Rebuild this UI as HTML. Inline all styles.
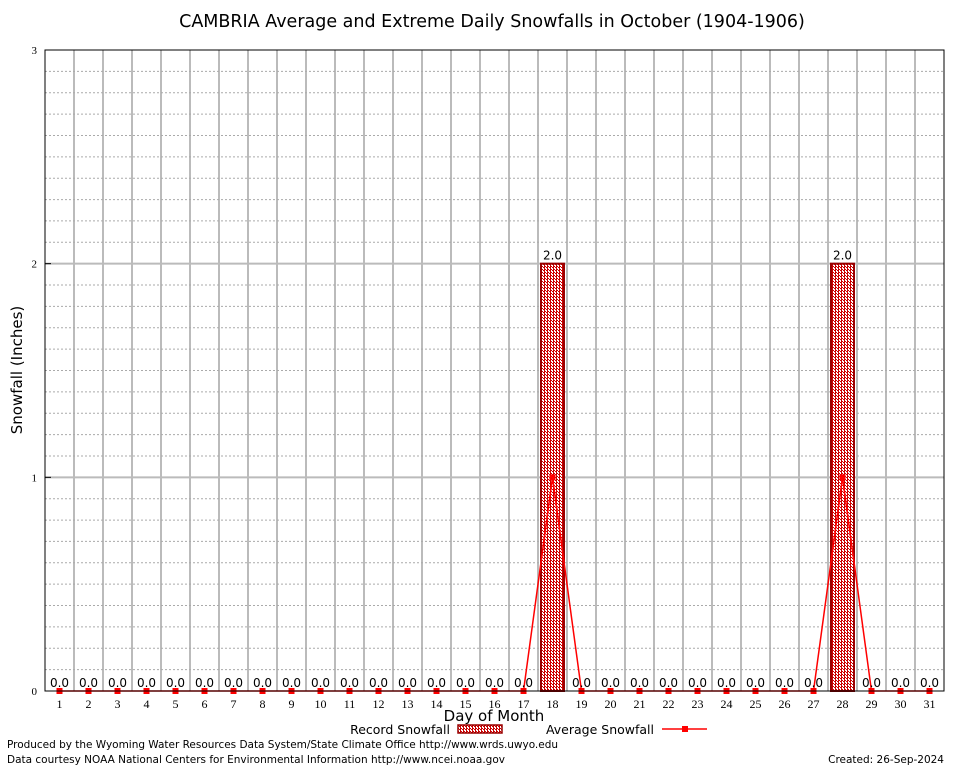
<!DOCTYPE html>
<html><head><meta charset="utf-8"><style>
body{margin:0;background:#fff}
svg{display:block;font-family:"DejaVu Sans","Liberation Sans",sans-serif}
</style></head><body>
<svg id="chart" width="954" height="768">
<defs><pattern id="hatch" width="3" height="3" patternUnits="userSpaceOnUse">
<rect width="3" height="3" fill="#fff"/><rect width="2" height="1" fill="#c00"/><rect x="1" y="1" width="1" height="2" fill="#c00"/><rect x="2" y="2" width="1" height="1" fill="#c00"/></pattern></defs>
<text x="492" y="27" text-anchor="middle" font-size="17.5">CAMBRIA Average and Extreme Daily Snowfalls in October (1904-1906)</text>
<g id="grid"></g>
<g id="bars"></g>
<g id="line"></g>
<g id="labels"></g>
<rect x="45" y="50" width="899" height="641" fill="none" stroke="#000"/>
<g id="axes"></g>
<text x="22" y="370" transform="rotate(-90 22 370)" text-anchor="middle" font-size="15">Snowfall (Inches)</text>
<text x="494" y="721" text-anchor="middle" font-size="15">Day of Month</text>
<g>
<text x="450" y="734" text-anchor="end" font-size="12.5">Record Snowfall</text>
<rect x="458" y="725" width="44" height="8" fill="url(#hatch)" stroke="#900" stroke-width="1.5"/>
<text x="654" y="734" text-anchor="end" font-size="12.5">Average Snowfall</text>
<line x1="662" y1="729" x2="707" y2="729" stroke="#f00" stroke-width="1.5"/>
<rect x="682" y="726" width="6" height="6" fill="#f00"/>
</g>
<text x="7" y="748" font-size="10.5" textLength="551">Produced by the Wyoming Water Resources Data System/State Climate Office http://www.wrds.uwyo.edu</text>
<text x="7" y="763" font-size="10.5" textLength="498">Data courtesy NOAA National Centers for Environmental Information http://www.ncei.noaa.gov</text>
<text x="944" y="763" text-anchor="end" font-size="10.5">Created:  26-Sep-2024</text>
</svg>
<script>
const days=[1,2,3,4,5,6,7,8,9,10,11,12,13,14,15,16,17,18,19,20,21,22,23,24,25,26,27,28,29,30,31];
const recordVals=[0,0,0,0,0,0,0,0,0,0,0,0,0,0,0,0,0,2,0,0,0,0,0,0,0,0,0,2,0,0,0];
const avgVals=[0,0,0,0,0,0,0,0,0,0,0,0,0,0,0,0,0,1,0,0,0,0,0,0,0,0,0,1,0,0,0];
const yTicks=[0,1,2,3];
const NS='http://www.w3.org/2000/svg';
const L=45,R=944,T=50,B=691,yMax=3;
const cw=(R-L)/days.length;
const xC=d=>L+cw*(d-0.5);
const yP=v=>B-(B-T)*v/yMax;
function mk(p,tag,a){const e=document.createElementNS(NS,tag);for(const k in a)e.setAttribute(k,a[k]);document.getElementById(p).appendChild(e);return e;}
for(let i=1;i<days.length;i++){const l=mk('grid','line',{x1:L+cw*i,x2:L+cw*i,y1:T,y2:B,stroke:'#bbb','stroke-width':2});

}
for(let v=1;v<yMax*10;v++){const maj=v%10===0;const l=mk('grid','line',{x1:L,x2:R,y1:yP(v/10),y2:yP(v/10),stroke:maj?'#bbb':'#aaa','stroke-width':maj?2:1,'stroke-dasharray':maj?'':'2,2'});

}
yTicks.forEach(v=>{const t=mk('axes','text',{x:37,y:yP(v)+4,'text-anchor':'end','font-size':11,'font-family':'Liberation Serif,serif'});t.textContent=v;


const tk=mk('axes','line',{x1:L,x2:L+6,y1:yP(v),y2:yP(v),stroke:'#000'});

});
days.forEach((d,i)=>{const t=mk('axes','text',{x:xC(d),y:708,'text-anchor':'middle','font-size':12,'font-family':'Liberation Serif,serif'});t.textContent=d;


const v=recordVals[i];
if(v>0){const b=mk('bars','rect',{x:xC(d)-11.5,y:yP(v),width:23,height:B-yP(v),fill:'url(#hatch)',stroke:'#900','stroke-width':2});

}
const lb=mk('labels','text',{x:xC(d),y:yP(v)-4,'text-anchor':'middle','font-size':12});lb.textContent=v.toFixed(1);

});
const pts=days.map((d,i)=>xC(d)+','+yP(avgVals[i])).join(' ');
const pl=mk('line','polyline',{points:pts,fill:'none',stroke:'#f00','stroke-width':1.5});


days.forEach((d,i)=>{const m=mk('line','rect',{x:xC(d)-3,y:yP(avgVals[i])-3,width:6,height:6,fill:'#f00'});

});
</script>
</body></html>
